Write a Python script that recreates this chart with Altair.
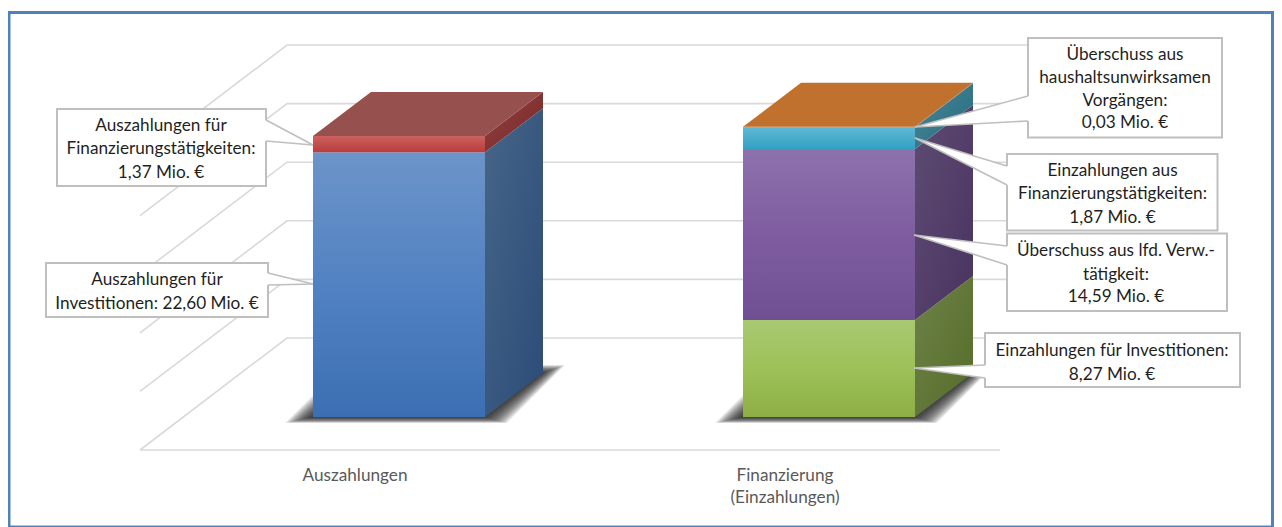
import altair as alt
import pandas as pd

# ---- chart data (Mio. EUR) ----
categories = ["Auszahlungen", "Finanzierung\n(Einzahlungen)"]
out_names = ["Investitionen", "Finanzierungstätigkeiten"]
out_values = [22.60, 1.37]
in_names = ["Investitionen", "lfd. Verw.", "Finanzierungstätigkeiten", "haushaltsunwirksam"]
in_values = [8.27, 14.59, 1.87, 0.03]
grid_levels = [0, 5, 10, 15, 20, 25]

callout_texts = [
    ["Auszahlungen für", "Finanzierungstätigkeiten:", "1,37 Mio. €"],
    ["Auszahlungen für", "Investitionen: 22,60 Mio. €"],
    ["Überschuss aus", "haushaltsunwirksamen", "Vorgängen:", "0,03 Mio. €"],
    ["Einzahlungen aus", "Finanzierungstätigkeiten:", "1,87 Mio. €"],
    ["Überschuss aus lfd. Verw.-", "tätigkeit:", "14,59 Mio. €"],
    ["Einzahlungen für Investitionen:", "8,27 Mio. €"],
]

# ---- layout ----
W, H = 1266, 519
PX_PER = 11.72          # pixels per Mio
Y0 = 417 - 8            # zero of the value axis, in chart pixels
FONT = "Lato"
FS = 17.2

x_scale = alt.Scale(domain=[0, W], range=[0, W], nice=False, zero=False)
y_scale = alt.Scale(domain=[(Y0 - H) / PX_PER, Y0 / PX_PER], range=[H, 0], nice=False, zero=False)
xe = alt.X("x:Q", scale=x_scale, axis=None)
ye = alt.Y("y:Q", scale=y_scale, axis=None)


def fx(px):  # image pixel -> x unit
    return px - 8


def fy(px):  # image pixel -> value unit
    return (417 - px) / PX_PER


def grad(*stops, x2=0):
    n = len(stops) - 1
    return alt.LinearGradient(
        gradient="linear",
        stops=[alt.GradientStop(color=c, offset=i / n) for i, c in enumerate(stops)],
        x1=0, y1=0, x2=x2, y2=1,
    )


def para_area(xl, xr, yf, yb, dx, **mark):
    """Parallelogram lying in the depth direction, from front edge to back edge (image px)."""
    rows = [
        {"x": fx(xl), "y": fy(yf), "y2": fy(yf)},
        {"x": fx(xl + dx), "y": fy(yb), "y2": fy(yf)},
        {"x": fx(xr), "y": fy(yb), "y2": fy(yf)},
        {"x": fx(xr + dx), "y": fy(yb), "y2": fy(yb)},
    ]
    return alt.Chart(pd.DataFrame(rows)).mark_area(**mark).encode(x=xe, y=ye, y2="y2:Q")


layers = []

# ---- frame (the drawable page ends at x=1274) ----
FRAME = "#4f81bd"
for a, b, c, d in [(8, 10.5, 11, 527), (8, 1274, 11, 14), (1271, 1274, 11, 527), (8, 1274, 525.5, 527)]:
    layers.append(
        alt.Chart(pd.DataFrame([{"x": fx(a), "x2": fx(b), "y": fy(c), "y2": fy(d)}]))
        .mark_rect(color=FRAME)
        .encode(x=xe, x2="x2:Q", y=ye, y2="y2:Q")
    )

# ---- 3-D wall / floor grid ----
GRID = "#d9d9d9"
grid_rows = []
back = (417 - 338) / PX_PER
depth = (450 - 338) / PX_PER
for v in grid_levels:
    grid_rows += [
        {"x": fx(140), "y": v + back - depth, "k": v},
        {"x": fx(287), "y": v + back, "k": v},
        {"x": fx(1147), "y": v + back, "k": v},
    ]
grid_rows += [{"x": fx(140), "y": back - depth, "k": -1}, {"x": fx(1000), "y": back - depth, "k": -1}]
layers.append(
    alt.Chart(pd.DataFrame(grid_rows)).mark_line(color=GRID, strokeWidth=1.6).encode(x=xe, y=ye, detail="k:N", order=alt.Order("x:Q"))
)

# ---- bars ----
BAR_W, DX, DY = 172, 58, 44
bars = [
    (313, out_values, [
        (("#6c94c9", "#5282c2", "#3b6fb3"), ("#476588", "#2b4c78"), None),
        (("#cc625f", "#b93c3a"), ("#8f4644", "#7a2322"), "#96504e"),
    ]),
    (743, in_values, [
        (("#a9c873", "#9dc158", "#8dae45"), ("#6d8249", "#566c27"), None),
        (("#8d72ac", "#7f5ca0", "#6f5092"), ("#5e4c74", "#49335f"), None),
        (("#5fb8d5", "#34a1c2"), ("#4e8797", "#206b7f"), None),
        (("#d08a4a", "#c0702e"), ("#b06a30", "#a06028"), "#c0712e"),
    ]),
]

# soft shadows made from nested translucent parallelograms
for x0, vals, _ in bars:
    for s in range(0, 24):
        layers.append(
            para_area(
                x0 - 28 + s * 1.2, x0 + BAR_W + 22 - s * 1.0,
                423 - s * 0.26, 365 + s * 0.36,
                58,
                color="#1e1e1e", opacity=0.07, strokeWidth=0,
            )
        )

for x0, vals, segs in bars:
    base = 0.0
    for v, (front, side, top) in zip(vals, segs):
        v0, v1 = base, base + v
        base = v1
        d = DY / PX_PER
        # side face
        layers.append(
            alt.Chart(pd.DataFrame([
                {"x": fx(x0 + BAR_W), "y": v1, "y2": v0},
                {"x": fx(x0 + BAR_W + DX), "y": v1 + d, "y2": v0 + d},
            ])).mark_area(color=grad(*side, x2=1)).encode(x=xe, y=ye, y2="y2:Q")
        )
        # front face
        layers.append(
            alt.Chart(pd.DataFrame([{"x": fx(x0), "x2": fx(x0 + BAR_W), "y": v1, "y2": v0}]))
            .mark_rect(color=grad(*front))
            .encode(x=xe, x2="x2:Q", y=ye, y2="y2:Q")
        )
        if top:
            py = 417 - v1 * PX_PER
            layers.append(para_area(x0, x0 + BAR_W, py, py - DY, DX, color=top))

# ---- callouts ----
BOX = "#bfbfbf"
boxes = [
    # x0, x1, y0, y1, tip x, tip y, edge x, edge y a, edge y b, centre x, line ys
    (57, 266, 109, 186, 313, 145, 266, 120, 141, 161, [126, 149, 173]),
    (46, 268, 263, 317, 313, 284, 268, 273, 285, 157, [280, 304]),
    (1028, 1222, 38, 137.5, 915, 127, 1028, 96, 121, 1125, [55, 78, 101, 123]),
    (1007, 1217.5, 154, 230.5, 915, 138, 1007, 166, 185, 1112.5, [171, 194, 218]),
    (1007, 1227, 233.5, 311, 914, 235, 1007, 246, 265, 1116, [251, 275, 297]),
    (985, 1240, 333, 387, 914, 368, 985, 365, 378, 1112, [351, 375]),
]
for (bx0, bx1, by0, by1, tx, ty, ex, ya, yb, cx, ys), lines in zip(boxes, callout_texts):
    layers.append(
        alt.Chart(pd.DataFrame([{"x": fx(bx0), "x2": fx(bx1), "y": fy(by0), "y2": fy(by1)}]))
        .mark_rect(color="white", stroke=BOX, strokeWidth=2)
        .encode(x=xe, x2="x2:Q", y=ye, y2="y2:Q")
    )
    inner = ex + (1.6 if ex == bx0 else -1.6)
    layers.append(
        alt.Chart(pd.DataFrame([
            {"x": fx(tx), "y": fy(ty), "y2": fy(ty)},
            {"x": fx(ex), "y": fy(ya), "y2": fy(yb)},
            {"x": fx(inner), "y": fy(ya), "y2": fy(yb)},
        ])).mark_area(color="white").encode(x=xe, y=ye, y2="y2:Q")
    )
    for ee in (ya, yb):
        layers.append(
            alt.Chart(pd.DataFrame([{"x": fx(tx), "y": fy(ty)}, {"x": fx(ex), "y": fy(ee)}]))
            .mark_line(color=BOX, strokeWidth=1.6)
            .encode(x=xe, y=ye)
        )
    layers.append(
        alt.Chart(pd.DataFrame([{"x": fx(cx), "y": fy(y), "t": t} for t, y in zip(lines, ys)]))
        .mark_text(font=FONT, fontSize=FS, color="#1f1f1f", baseline="middle", align="center")
        .encode(x=xe, y=ye, text="t:N")
    )

# ---- category labels ----
cat_rows = []
for name, cx in zip(categories, (355, 785)):
    for i, line in enumerate(name.split("\n")):
        cat_rows.append({"x": fx(cx), "y": fy(476 + i * 22), "t": line})
layers.append(
    alt.Chart(pd.DataFrame(cat_rows))
    .mark_text(font=FONT, fontSize=FS, color="#595959", baseline="middle", align="center")
    .encode(x=xe, y=ye, text="t:N")
)

chart = (
    alt.layer(*layers)
    .properties(width=W, height=H, padding=0, background="white")
    .configure_view(stroke=None)
)
chart.save("out.html", embed_options={"renderer": "svg", "actions": False})
